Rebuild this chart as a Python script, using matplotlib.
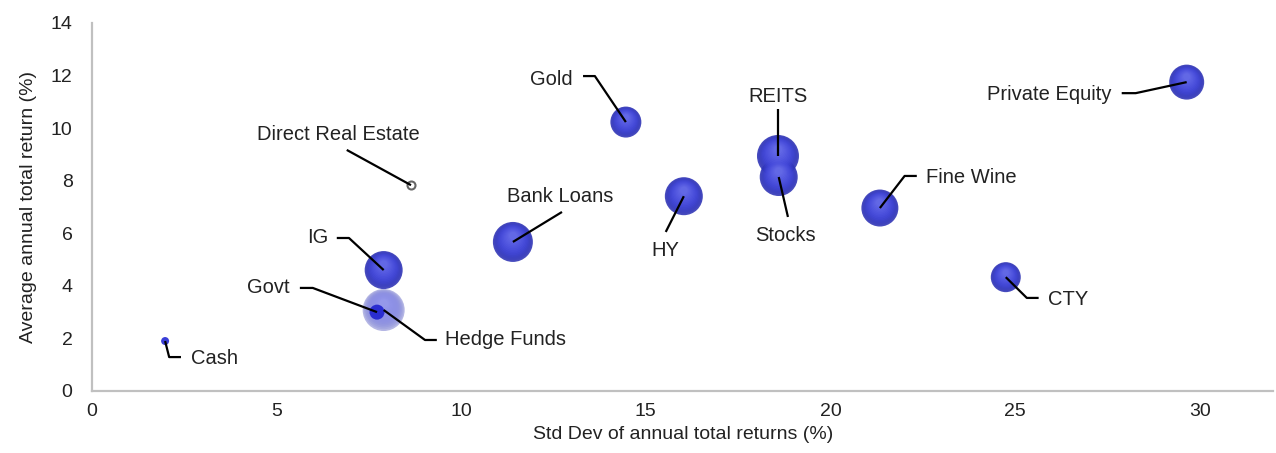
import matplotlib
matplotlib.use("Agg")
import matplotlib.pyplot as plt
import matplotlib.transforms as mtransforms
import numpy as np
from matplotlib.colors import to_rgb

plt.rcParams['font.family'] = ['Liberation Sans', 'DejaVu Sans']

# ---------------- data ----------------
assets = ["Cash", "Direct Real Estate", "IG", "Govt", "Hedge Funds", "Bank Loans",
          "Gold", "HY", "REITS", "Stocks", "Fine Wine", "CTY", "Private Equity"]
std_dev = [1.98, 8.64, 7.90, 7.72, 7.90, 11.40, 14.46, 16.03, 18.58, 18.60, 21.34, 24.75, 29.65]
avg_return = [1.90, 7.83, 4.60, 3.00, 3.08, 5.67, 10.23, 7.41, 8.94, 8.14, 6.96, 4.33, 11.75]
# relative bubble size (diameter scale)
bubble = [8, 8, 38, 15, 42, 40, 31, 38, 42, 38, 37, 30, 35]

xticks = [0, 5, 10, 15, 20, 25, 30]
yticks = [0, 2, 4, 6, 8, 10, 12, 14]
xlabel = "Std Dev of annual total returns (%)"
ylabel = "Average annual total return (%)"

# label layout: (text x, text y, ha, elbow point or None, stub end)
labels = {
    "Cash":               (2.68, 1.22, "left",   (2.09, 1.29), (2.41, 1.29)),
    "Direct Real Estate": (6.66, 9.74, "center", None,         (6.90, 9.17)),
    "IG":                 (6.39, 5.82, "right",  (6.96, 5.82), (6.63, 5.82)),
    "Govt":               (5.36, 3.92, "right",  (5.98, 3.92), (5.63, 3.92)),
    "Hedge Funds":        (9.56, 1.94, "left",   (9.02, 1.94), (9.34, 1.94)),
    "Bank Loans":         (12.67, 7.38, "center", None,        (12.73, 6.81)),
    "Gold":               (13.02, 11.85, "right", (13.62, 11.98), (13.30, 11.98)),
    "HY":                 (15.52, 5.36, "center", None,        (15.54, 6.05)),
    "REITS":              (18.58, 11.22, "center", None,       (18.58, 10.73)),
    "Stocks":             (18.79, 5.90, "center", None,        (18.85, 6.62)),
    "Fine Wine":          (22.58, 8.12, "left",  (22.01, 8.18), (22.34, 8.18)),
    "CTY":                (25.89, 3.48, "left",  (25.32, 3.54), (25.64, 3.54)),
    "Private Equity":     (27.62, 11.28, "right", (28.27, 11.33), (27.89, 11.33)),
}

# ---------------- figure ----------------
fig = plt.figure(figsize=(12.76, 4.53), dpi=100)
ax = fig.add_axes([0.0721, 0.1369, 0.9259, 0.8124])
ax.set_xlim(0, 32)
ax.set_ylim(0, 14)

rim = np.array(to_rgb("#2d32b4"))
base = np.array(to_rgb("#4449dc"))
high = np.array(to_rgb("#8a8ff4"))


def sphere(x, y, d, alpha=1.0, z=3, light=False):
    n = 14
    r_pt = d * 0.72 / 2
    for i in range(n):
        t = i / (n - 1)
        f = 1 - t * 0.8
        if t < 0.3:
            c = rim + (base - rim) * (t / 0.3)
        else:
            c = base + (high - base) * ((t - 0.3) / 0.7) * 0.55
        if light:
            c = c + (1 - c) * 0.35
        dy = r_pt * 0.3 * t  # highlight drifts upward
        tr = mtransforms.offset_copy(ax.transData, fig=fig, x=0, y=dy, units='points')
        s = (d * f * 0.72) ** 2
        a = alpha if i == 0 else 0.45 * alpha
        ax.scatter([x], [y], s=s, color=c, alpha=a, edgecolors='none',
                   zorder=z + i * 0.01, transform=tr)


for name, x, y, b in zip(assets, std_dev, avg_return, bubble):
    if name == "Direct Real Estate":
        ax.scatter([x], [y], s=(b * 0.72) ** 2, facecolor="white", edgecolor="#666666",
                   linewidths=1.5, zorder=3)
    elif name == "Cash":
        ax.scatter([x], [y], s=(b * 0.72) ** 2, color="#3a3fd8", edgecolors="none", zorder=3)
    elif name == "Govt":
        ax.scatter([x], [y], s=(b * 0.72) ** 2, color="#2a2dd0", edgecolors="none", zorder=4.5)
    elif name == "Hedge Funds":
        sphere(x, y, b, alpha=0.55, z=4, light=True)
    else:
        sphere(x, y, b, alpha=0.88, z=3)

# leader lines and labels
for name, x, y in zip(assets, std_dev, avg_return):
    tx, ty, ha, elbow, stub = labels[name]
    xs, ys = [x], [y]
    if elbow is not None:
        xs.append(elbow[0]); ys.append(elbow[1])
    xs.append(stub[0]); ys.append(stub[1])
    ax.plot(xs, ys, color="black", lw=1.6, zorder=6, solid_capstyle="butt")
    ax.text(tx, ty, name, ha=ha, va="center", fontsize=14.5, color="#222222", zorder=7)

# axes styling
for sp in ["top", "right"]:
    ax.spines[sp].set_visible(False)
for sp in ["left", "bottom"]:
    ax.spines[sp].set_color("#c0c0c0")
    ax.spines[sp].set_linewidth(1.6)
ax.set_xticks(xticks)
ax.set_yticks(yticks)
ax.tick_params(axis="both", length=0, labelsize=14, colors="#222222")
ax.tick_params(axis="y", pad=14)
ax.tick_params(axis="x", pad=9)
ax.set_xlabel(xlabel, fontsize=14, color="#222222", labelpad=4)
ax.set_ylabel(ylabel, fontsize=14, color="#222222", labelpad=10)

fig.savefig("out.png", dpi=100, facecolor="white")
